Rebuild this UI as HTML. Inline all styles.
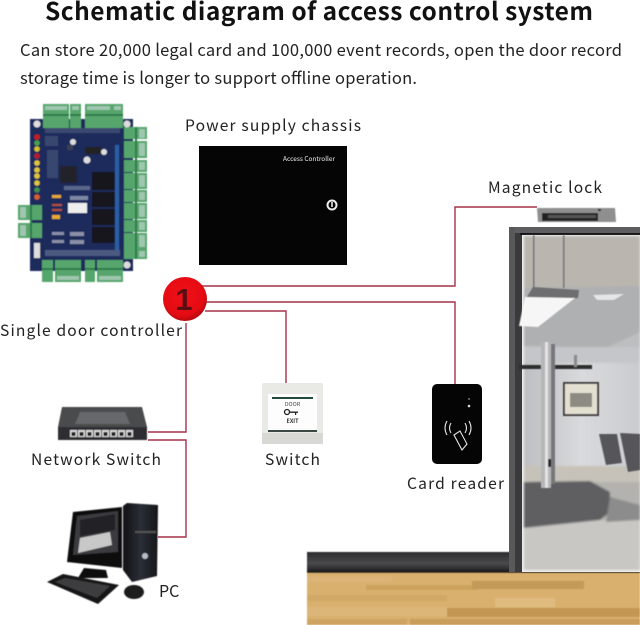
<!DOCTYPE html>
<html><head><meta charset="utf-8"><style>
html,body{margin:0;padding:0;background:#fff}
svg{display:block}
text{font-family:"Noto Sans CJK SC","Liberation Sans",sans-serif;fill:#222}
</style></head><body>
<svg width="640" height="625" viewBox="0 0 640 625" xmlns="http://www.w3.org/2000/svg">
<defs>
<filter id="b" x="-5%" y="-5%" width="110%" height="110%"><feGaussianBlur stdDeviation="0.5"/></filter>
<filter id="b2" x="-5%" y="-5%" width="110%" height="110%"><feGaussianBlur stdDeviation="1"/></filter>
<linearGradient id="band" x1="0" y1="0" x2="0" y2="1"><stop offset="0" stop-color="#2b2b2d"/><stop offset=".55" stop-color="#4a4a4c"/><stop offset="1" stop-color="#171718"/></linearGradient>
<linearGradient id="wall" x1="0" y1="0" x2="1" y2="0"><stop offset="0" stop-color="#bdbfc2"/><stop offset=".5" stop-color="#d9dadc"/><stop offset="1" stop-color="#c9cbce"/></linearGradient>
<radialGradient id="red" cx=".45" cy=".4" r=".6"><stop offset="0" stop-color="#f01018"/><stop offset=".8" stop-color="#e40b12"/><stop offset="1" stop-color="#b50a10"/></radialGradient>
<linearGradient id="tower" x1="0" y1="0" x2="1" y2="0"><stop offset="0" stop-color="#101114"/><stop offset=".5" stop-color="#2b2e36"/><stop offset="1" stop-color="#15161a"/></linearGradient>
</defs>
<rect width="640" height="625" fill="#fff"/>

<!-- headings -->
<text x="45" y="20" font-size="24.500" font-weight="700" textLength="548" lengthAdjust="spacing" style="fill:#111">Schematic diagram of access control system</text>
<text x="20" y="56" font-size="16.500" textLength="602" lengthAdjust="spacing">Can store 20,000 legal card and 100,000 event records, open the door record</text>
<text x="20" y="84" font-size="16.500" textLength="397" lengthAdjust="spacing">storage time is longer to support offline operation.</text>

<!-- floor + base band -->
<g filter="url(#b)">
<rect x="307" y="552" width="333" height="21" fill="url(#band)"/>
<rect x="307" y="573" width="333" height="52" fill="#d9b06e"/>
<rect x="307" y="576" width="85" height="6" fill="#dcb477"/>
<rect x="366" y="585" width="112" height="5" fill="#cda25c"/>
<rect x="472" y="581" width="112" height="8" fill="#c49a58"/>
<rect x="307" y="595" width="140" height="6" fill="#d2a866"/>
<rect x="495" y="598" width="60" height="9" fill="#e0bb80"/>
<rect x="307" y="607" width="140" height="9" fill="#dcb678"/>
<rect x="447" y="608" width="193" height="9" fill="#c39752"/>
<rect x="410" y="619" width="230" height="6" fill="#c99e5a"/>
<rect x="307" y="619" width="100" height="6" fill="#cfa463"/>
</g>

<!-- door -->
<rect x="509" y="227" width="131" height="345" fill="#3a3a3c"/>
<rect x="509" y="227" width="131" height="6" fill="#5e5e60"/>
<rect x="509" y="227" width="6" height="345" fill="#59595b"/>
<rect x="520" y="233" width="120" height="2" fill="#151515"/>
<rect x="522" y="235" width="118" height="337" fill="#eeeeee"/>
<g filter="url(#b2)">
<rect x="524" y="236" width="116" height="334" fill="url(#wall)"/>
<polygon points="524,236 640,236 640,288 524,290" fill="#bab6af"/>
<polygon points="524,288 640,286 640,350 524,346" fill="#aeb0b1"/>
<polygon points="610,346 640,332 640,350 610,350" fill="#bcbec0"/>
<rect x="524" y="347" width="116" height="16" fill="#c4c6c9"/>
<rect x="524" y="466" width="116" height="16" fill="#c6c2b9"/>
<rect x="524" y="482" width="116" height="42" fill="#b4b2ae"/>
<rect x="524" y="520" width="116" height="50" fill="#c9c7c3"/>
<polygon points="524,482 590,481 610,492 610,512 600,520 524,528" fill="#5f5f62"/>
<polygon points="610,497 640,505 640,520 606,522" fill="#8c8c8c"/>
</g>
<g filter="url(#b)">
<rect x="533" y="235" width="1.500" height="53" fill="#77777a"/>
<rect x="563" y="235" width="1.500" height="53" fill="#77777a"/>
<polygon points="533,287 579,290 578,298 525,300" fill="#6e6e70"/>
<polygon points="525,297 575,298 538,327 519,326" fill="#f6f6f6"/>
<polygon points="593,295 624,294 614,300 597,300" fill="#e6e6e6"/>
<rect x="563" y="382" width="36" height="34" fill="#3f3e3c"/>
<rect x="565" y="384" width="32" height="30" fill="#e3e0d2"/>
<rect x="570" y="393" width="22" height="14" fill="#8d8c82"/>
<rect x="519" y="365" width="73" height="4" fill="#2d2d2e"/>
<rect x="574" y="355" width="3" height="12" fill="#8a8a8a"/>
<rect x="550" y="344" width="5" height="140" fill="#77777a"/>
<rect x="541" y="342" width="10" height="146" fill="#b6b6b8"/>
<rect x="545" y="342" width="3" height="146" fill="#e2e2e2"/>
<rect x="548" y="459" width="3" height="8" fill="#222"/>
<polygon points="599,434 617,434 622,463 606,465" fill="#56575a"/>
<polygon points="620,433 640,434 640,470 628,472" fill="#56575a"/>
</g>

<!-- wires -->
<g fill="none" stroke="#a5324a" stroke-width="1.400">
<polyline points="200,286 455,286 455,207 537,207"/>
<polyline points="205,302 455,302 455,384"/>
<polyline points="205,311 286,311 286,383"/>
<polyline points="186,323 186,432 148,432"/>
<polyline points="148,440 186,440 186,537 158,537"/>
</g>

<!-- magnetic lock -->
<g filter="url(#b)">
<polygon points="537,208 615,208 616,222 538,222" fill="#8f8f90"/>
<rect x="542" y="213" width="56" height="8" fill="#202022"/>
<rect x="548" y="215" width="48" height="3" fill="#555"/>
<rect x="598" y="209" width="3" height="2" fill="#222"/>
</g>

<!-- power chassis -->
<rect x="199" y="146" width="148" height="119" fill="#050505"/>
<text x="283" y="161" font-size="6.500" textLength="52" lengthAdjust="spacingAndGlyphs" style="fill:#eee">Access Controller</text>
<circle cx="332" cy="205" r="4.500" fill="none" stroke="#eee" stroke-width="2"/>
<rect x="331" y="202" width="2" height="5" fill="#bbb"/>

<!-- controller board -->
<g filter="url(#b)">
<rect x="30" y="119" width="103" height="152" fill="#1d2a5c"/>
<g fill="#54a56c">
<rect x="43" y="104" width="26" height="24"/><rect x="70" y="104" width="11" height="24"/>
<rect x="85" y="104" width="27" height="24"/><rect x="112" y="104" width="11" height="24"/>
<rect x="42" y="260" width="11" height="22"/><rect x="55" y="260" width="26" height="22"/>
<rect x="85" y="260" width="10" height="22"/><rect x="97" y="260" width="26" height="22"/>
<rect x="18" y="205" width="24" height="15"/><rect x="18" y="223" width="24" height="15"/>
<rect x="124" y="127" width="23" height="12"/><rect x="124" y="141" width="23" height="17"/>
<rect x="124" y="160" width="23" height="12"/><rect x="124" y="173" width="23" height="16"/>
<rect x="124" y="190" width="23" height="12"/><rect x="124" y="203" width="23" height="16"/>
<rect x="124" y="220" width="23" height="12"/><rect x="124" y="233" width="23" height="16"/>
<rect x="124" y="249" width="23" height="10"/>
</g>
<g fill="#2f7a49">
<rect x="43" y="114" width="26" height="2"/><rect x="70" y="114" width="11" height="2"/>
<rect x="85" y="114" width="27" height="2"/><rect x="112" y="114" width="11" height="2"/>
<rect x="42" y="268" width="11" height="2"/><rect x="55" y="268" width="26" height="2"/>
<rect x="85" y="268" width="10" height="2"/><rect x="97" y="268" width="26" height="2"/>
<rect x="30" y="205" width="2" height="33"/>
<rect x="135" y="127" width="2" height="132"/>
</g>
<g fill="#9fc6ae">
<rect x="139" y="129" width="6" height="9"/><rect x="139" y="143" width="6" height="13"/>
<rect x="139" y="162" width="6" height="8"/><rect x="139" y="175" width="6" height="12"/>
<rect x="139" y="192" width="6" height="8"/><rect x="139" y="205" width="6" height="12"/>
<rect x="139" y="222" width="6" height="8"/><rect x="139" y="235" width="6" height="12"/>
<rect x="139" y="251" width="6" height="6"/>
<rect x="45" y="106" width="22" height="4"/><rect x="72" y="106" width="7" height="4"/>
<rect x="87" y="106" width="23" height="4"/><rect x="114" y="106" width="7" height="4"/>
<rect x="57" y="276" width="22" height="4"/><rect x="99" y="276" width="22" height="4"/>
<rect x="20" y="207" width="6" height="11"/><rect x="20" y="225" width="6" height="11"/>
</g>
<circle cx="37" cy="124" r="3.500" fill="#ddd"/><circle cx="127" cy="124" r="3.500" fill="#ddd"/><circle cx="127" cy="265" r="3.500" fill="#ddd"/>
<rect x="92" y="172" width="23" height="18" fill="#15161c"/>
<rect x="92" y="192" width="23" height="15" fill="#15161c"/>
<rect x="92" y="209" width="23" height="16" fill="#15161c"/>
<rect x="92" y="227" width="23" height="16" fill="#15161c"/>
<rect x="60" y="166" width="17" height="17" fill="#20232c"/>
<rect x="68" y="203" width="19" height="10" fill="#eee"/>
<rect x="67" y="145" width="6" height="5" fill="#3a3f55"/>
<circle cx="73" cy="142" r="3" fill="#ddd"/><circle cx="87" cy="160" r="3.500" fill="#ddd"/><circle cx="104" cy="152" r="3" fill="#ddd"/>
<rect x="85" y="147" width="16" height="7" fill="#222"/>
<rect x="115" y="145" width="4" height="110" fill="#2a5fa5"/>
<rect x="34" y="243" width="6" height="15" fill="#ddd"/>
<rect x="52" y="195" width="9" height="3" fill="#e8a830"/><rect x="52" y="215" width="8" height="4" fill="#e8a830"/>
<rect x="52" y="204" width="10" height="2" fill="#b0503a"/><rect x="52" y="209" width="10" height="2" fill="#b0503a"/>
<rect x="45" y="250" width="75" height="6" fill="#4b5a80"/><rect x="45" y="128" width="75" height="5" fill="#3a4a70"/>
<rect x="45" y="136" width="13" height="10" fill="#39476f"/><rect x="47" y="150" width="11" height="28" fill="#39476f"/>
<rect x="64" y="186" width="26" height="4" fill="#5a668c"/><rect x="70" y="196" width="18" height="4" fill="#7b86a5"/>
<rect x="70" y="232" width="14" height="4" fill="#8a90a8"/><rect x="70" y="240" width="14" height="4" fill="#8a90a8"/>
<rect x="52" y="232" width="12" height="3" fill="#8a90a8"/><rect x="52" y="240" width="12" height="3" fill="#8a90a8"/>
<circle cx="37" cy="137" r="2.800" fill="#c81f1f"/><circle cx="37" cy="143" r="2.800" fill="#4ba04a"/>
<circle cx="37" cy="149" r="2.800" fill="#d8c02c"/><circle cx="37" cy="156" r="2.800" fill="#b81f2a"/>
<circle cx="37" cy="163" r="2.800" fill="#e0c63a"/><circle cx="37" cy="170" r="2.800" fill="#e0c63a"/>
<circle cx="37" cy="176" r="2.800" fill="#e0c63a"/><circle cx="37" cy="183" r="2.800" fill="#e0c63a"/>
<circle cx="37" cy="190" r="2.800" fill="#3f8f50"/><circle cx="37" cy="197" r="2.800" fill="#d8602c"/>
</g>

<!-- red badge -->
<circle cx="185" cy="299" r="22" fill="url(#red)"/>
<text x="184" y="310" font-size="31" font-weight="700" text-anchor="middle" style="font-family:'Liberation Sans',sans-serif;fill:#5a0e12">1</text>

<!-- exit switch -->
<rect x="262" y="383" width="61" height="61" rx="2" fill="#e9e9e6"/>
<rect x="262" y="433" width="61" height="11" fill="#d8d8d4"/>
<rect x="268" y="394" width="49" height="38" fill="#fdfdfd"/>
<rect x="272" y="397" width="41" height="2" fill="#244c3c"/>
<rect x="268" y="430" width="49" height="2" fill="#3a4a42"/>
<text x="292.500" y="406" font-size="5.500" text-anchor="middle" style="fill:#444">DOOR</text>
<circle cx="287" cy="412" r="2.500" fill="none" stroke="#222" stroke-width="1.300"/>
<rect x="289" y="411.500" width="9" height="1.400" fill="#222"/>
<rect x="295" y="412" width="1.200" height="3" fill="#222"/>
<text x="292.500" y="423" font-size="5.500" font-weight="700" text-anchor="middle" style="fill:#333">EXIT</text>

<!-- card reader -->
<rect x="432" y="384" width="50" height="80" rx="5" fill="#050505"/>
<circle cx="469" cy="399" r="1" fill="#777"/><circle cx="469" cy="406" r="1.300" fill="#ddd"/>
<g fill="none" stroke="#e4e4e4" stroke-width="1.100">
<path d="M447 421 Q443 428 447 435"/><path d="M451 423 Q448 428 451 433"/>
<path d="M469 421 Q473 428 469 435"/><path d="M465 423 Q468 428 465 433"/>
<polygon points="454,435 460,431 467,444 462,450"/>
</g>

<!-- network switch -->
<g filter="url(#b)">
<polygon points="62,407 142,407 147,427 58,427" fill="#4a4b4e"/>
<polygon points="80,412 125,412 130,424 75,424" fill="#66676a"/>
<rect x="58" y="427" width="89" height="13" fill="#2e2f32"/>
<g fill="#d8d8d8">
<rect x="70" y="430" width="7" height="7"/><rect x="78" y="430" width="7" height="7"/>
<rect x="86" y="430" width="7" height="7"/><rect x="94" y="430" width="7" height="7"/>
<rect x="102" y="430" width="7" height="7"/><rect x="110" y="430" width="7" height="7"/>
<rect x="118" y="430" width="7" height="7"/><rect x="126" y="430" width="7" height="7"/>
</g>
<g fill="#1a1a1c">
<rect x="71.500" y="432" width="4" height="4"/><rect x="79.500" y="432" width="4" height="4"/>
<rect x="87.500" y="432" width="4" height="4"/><rect x="95.500" y="432" width="4" height="4"/>
<rect x="103.500" y="432" width="4" height="4"/><rect x="111.500" y="432" width="4" height="4"/>
<rect x="119.500" y="432" width="4" height="4"/><rect x="127.500" y="432" width="4" height="4"/>
</g>
</g>

<!-- PC -->
<g filter="url(#b)">
<polygon points="123,506 127,503 158,505 157,576 132,582 123,570" fill="url(#tower)"/>
<rect x="135" y="531" width="21" height="2" fill="#555"/>
<circle cx="145" cy="556" r="3" fill="#b8bcc4"/>
<polygon points="73,512 122,507 122,568 67,562" fill="#0c0c0e"/>
<polygon points="77,516 118,511 118,552 73,555" fill="#3a3b3f"/>
<polygon points="80,538 110,532 112,545 78,553" fill="#c8c8c8"/>
<polygon points="80,520 115,514 115,530 80,536" fill="#232325"/>
<polygon points="84,568 106,570 108,578 78,578" fill="#111"/>
<polygon points="47,582 63,574 119,585 98,604" fill="#141416"/>
<polygon points="55,582 65,578 110,586 97,598" fill="#3c3d40"/>
<ellipse cx="134" cy="592" rx="10" ry="7" fill="#1a1a1c"/>
</g>

<!-- labels -->
<text x="185" y="131" font-size="15.600" textLength="176" lengthAdjust="spacing">Power supply chassis</text>
<text x="488" y="193" font-size="15.600" textLength="114" lengthAdjust="spacing">Magnetic lock</text>
<text x="0" y="336" font-size="15.600" textLength="182" lengthAdjust="spacing">Single door controller</text>
<text x="31" y="465" font-size="15.600" textLength="130" lengthAdjust="spacing">Network Switch</text>
<text x="265" y="465" font-size="15.600" textLength="55" lengthAdjust="spacing">Switch</text>
<text x="407" y="489" font-size="15.600" textLength="97" lengthAdjust="spacing">Card reader</text>
<text x="159" y="597" font-size="16">PC</text>
</svg>
</body></html>
